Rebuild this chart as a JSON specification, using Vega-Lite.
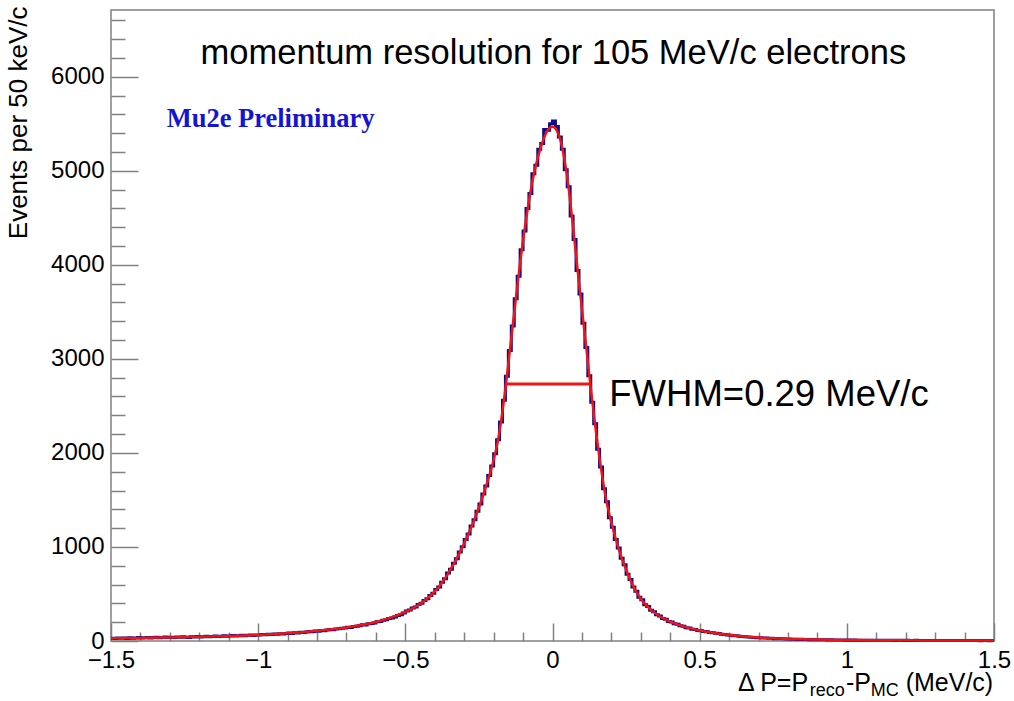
{
  "$schema": "https://vega.github.io/schema/vega-lite/v6.json",
  "width": 883,
  "height": 631,
  "autosize": "none",
  "padding": {"left": 111, "top": 10, "right": 20, "bottom": 60},
  "background": "white",
  "config": {"view": {"stroke": "#808080", "strokeWidth": 1.5}, "font": "Liberation Sans"},
  "datasets": {
    "hist": [
      {"x":-1.50,"n":30},{"x":-1.49,"n":26},{"x":-1.48,"n":33},{"x":-1.47,"n":29},{"x":-1.46,"n":31},{"x":-1.45,"n":27},{"x":-1.44,"n":35},{"x":-1.43,"n":30},{"x":-1.42,"n":33},{"x":-1.41,"n":36},
      {"x":-1.40,"n":31},{"x":-1.39,"n":34},{"x":-1.38,"n":38},{"x":-1.37,"n":33},{"x":-1.36,"n":36},{"x":-1.35,"n":40},{"x":-1.34,"n":35},{"x":-1.33,"n":38},{"x":-1.32,"n":42},{"x":-1.31,"n":37},
      {"x":-1.30,"n":40},{"x":-1.29,"n":36},{"x":-1.28,"n":43},{"x":-1.27,"n":39},{"x":-1.26,"n":44},{"x":-1.25,"n":41},{"x":-1.24,"n":38},{"x":-1.23,"n":45},{"x":-1.22,"n":42},{"x":-1.21,"n":47},
      {"x":-1.20,"n":43},{"x":-1.19,"n":46},{"x":-1.18,"n":50},{"x":-1.17,"n":44},{"x":-1.16,"n":48},{"x":-1.15,"n":52},{"x":-1.14,"n":47},{"x":-1.13,"n":51},{"x":-1.12,"n":55},{"x":-1.11,"n":50},
      {"x":-1.10,"n":54},{"x":-1.09,"n":58},{"x":-1.08,"n":52},{"x":-1.07,"n":57},{"x":-1.06,"n":61},{"x":-1.05,"n":56},{"x":-1.04,"n":60},{"x":-1.03,"n":64},{"x":-1.02,"n":58},{"x":-1.01,"n":63},
      {"x":-1.00,"n":63},{"x":-0.99,"n":70},{"x":-0.98,"n":66},{"x":-0.97,"n":72},{"x":-0.96,"n":69},{"x":-0.95,"n":75},{"x":-0.94,"n":71},{"x":-0.93,"n":78},{"x":-0.92,"n":74},{"x":-0.91,"n":80},
      {"x":-0.90,"n":84},{"x":-0.89,"n":81},{"x":-0.88,"n":89},{"x":-0.87,"n":86},{"x":-0.86,"n":93},{"x":-0.85,"n":90},{"x":-0.84,"n":97},{"x":-0.83,"n":101},{"x":-0.82,"n":98},{"x":-0.81,"n":106},
      {"x":-0.80,"n":104},{"x":-0.79,"n":112},{"x":-0.78,"n":109},{"x":-0.77,"n":118},{"x":-0.76,"n":121},{"x":-0.75,"n":119},{"x":-0.74,"n":128},{"x":-0.73,"n":131},{"x":-0.72,"n":135},{"x":-0.71,"n":138},
      {"x":-0.70,"n":146},{"x":-0.69,"n":143},{"x":-0.68,"n":155},{"x":-0.67,"n":158},{"x":-0.66,"n":161},{"x":-0.65,"n":172},{"x":-0.64,"n":170},{"x":-0.63,"n":183},{"x":-0.62,"n":186},{"x":-0.61,"n":192},
      {"x":-0.60,"n":205},{"x":-0.59,"n":208},{"x":-0.58,"n":221},{"x":-0.57,"n":226},{"x":-0.56,"n":240},{"x":-0.55,"n":245},{"x":-0.54,"n":256},{"x":-0.53,"n":272},{"x":-0.52,"n":279},{"x":-0.51,"n":298},
      {"x":-0.50,"n":318},{"x":-0.49,"n":330},{"x":-0.48,"n":352},{"x":-0.47,"n":362},{"x":-0.46,"n":389},{"x":-0.45,"n":402},{"x":-0.44,"n":431},{"x":-0.43,"n":449},{"x":-0.42,"n":484},{"x":-0.41,"n":507},
      {"x":-0.40,"n":548},{"x":-0.39,"n":575},{"x":-0.38,"n":626},{"x":-0.37,"n":661},{"x":-0.36,"n":722},{"x":-0.35,"n":764},{"x":-0.34,"n":827},{"x":-0.33,"n":874},{"x":-0.32,"n":946},{"x":-0.31,"n":1002},
      {"x":-0.30,"n":1079},{"x":-0.29,"n":1139},{"x":-0.28,"n":1222},{"x":-0.27,"n":1289},{"x":-0.26,"n":1381},{"x":-0.25,"n":1458},{"x":-0.24,"n":1562},{"x":-0.23,"n":1648},{"x":-0.22,"n":1761},{"x":-0.21,"n":1862},
      {"x":-0.20,"n":1990},{"x":-0.19,"n":2140},{"x":-0.18,"n":2330},{"x":-0.17,"n":2561},{"x":-0.16,"n":2815},{"x":-0.15,"n":3090},{"x":-0.14,"n":3350},{"x":-0.13,"n":3640},{"x":-0.12,"n":3880},{"x":-0.11,"n":4160},
      {"x":-0.10,"n":4360},{"x":-0.09,"n":4600},{"x":-0.08,"n":4760},{"x":-0.07,"n":4970},{"x":-0.06,"n":5060},{"x":-0.05,"n":5230},{"x":-0.04,"n":5290},{"x":-0.03,"n":5440},{"x":-0.02,"n":5430},{"x":-0.01,"n":5500},
      {"x":0.00,"n":5530},{"x":0.01,"n":5470},{"x":0.02,"n":5360},{"x":0.03,"n":5230},{"x":0.04,"n":5010},{"x":0.05,"n":4830},{"x":0.06,"n":4520},{"x":0.07,"n":4270},{"x":0.08,"n":3940},{"x":0.09,"n":3690},
      {"x":0.10,"n":3380},{"x":0.11,"n":3120},{"x":0.12,"n":2820},{"x":0.13,"n":2540},{"x":0.14,"n":2310},{"x":0.15,"n":2040},{"x":0.16,"n":1850},{"x":0.17,"n":1620},{"x":0.18,"n":1480},{"x":0.19,"n":1310},
      {"x":0.20,"n":1210},{"x":0.21,"n":1080},{"x":0.22,"n":990},{"x":0.23,"n":880},{"x":0.24,"n":810},{"x":0.25,"n":710},{"x":0.26,"n":655},{"x":0.27,"n":575},{"x":0.28,"n":530},{"x":0.29,"n":465},
      {"x":0.30,"n":438},{"x":0.31,"n":385},{"x":0.32,"n":366},{"x":0.33,"n":326},{"x":0.34,"n":310},{"x":0.35,"n":280},{"x":0.36,"n":266},{"x":0.37,"n":240},{"x":0.38,"n":231},{"x":0.39,"n":208},
      {"x":0.40,"n":202},{"x":0.41,"n":184},{"x":0.42,"n":178},{"x":0.43,"n":162},{"x":0.44,"n":157},{"x":0.45,"n":142},{"x":0.46,"n":139},{"x":0.47,"n":126},{"x":0.48,"n":123},{"x":0.49,"n":112},
      {"x":0.50,"n":108},{"x":0.51,"n":101},{"x":0.52,"n":98},{"x":0.53,"n":91},{"x":0.54,"n":88},{"x":0.55,"n":82},{"x":0.56,"n":79},{"x":0.57,"n":72},{"x":0.58,"n":70},{"x":0.59,"n":64},
      {"x":0.60,"n":61},{"x":0.61,"n":57},{"x":0.62,"n":55},{"x":0.63,"n":50},{"x":0.64,"n":48},{"x":0.65,"n":44},{"x":0.66,"n":43},{"x":0.67,"n":39},{"x":0.68,"n":38},{"x":0.69,"n":35},
      {"x":0.70,"n":34},{"x":0.71,"n":31},{"x":0.72,"n":31},{"x":0.73,"n":28},{"x":0.74,"n":28},{"x":0.75,"n":25},{"x":0.76,"n":26},{"x":0.77,"n":23},{"x":0.78,"n":23},{"x":0.79,"n":21},
      {"x":0.80,"n":21},{"x":0.81,"n":19},{"x":0.82,"n":19},{"x":0.83,"n":17},{"x":0.84,"n":18},{"x":0.85,"n":16},{"x":0.86,"n":16},{"x":0.87,"n":14},{"x":0.88,"n":15},{"x":0.89,"n":13},
      {"x":0.90,"n":14},{"x":0.91,"n":12},{"x":0.92,"n":13},{"x":0.93,"n":11},{"x":0.94,"n":12},{"x":0.95,"n":11},{"x":0.96,"n":11},{"x":0.97,"n":10},{"x":0.98,"n":11},{"x":0.99,"n":9},
      {"x":1.00,"n":10},{"x":1.01,"n":9},{"x":1.02,"n":10},{"x":1.03,"n":8},{"x":1.04,"n":9},{"x":1.05,"n":9},{"x":1.06,"n":8},{"x":1.07,"n":9},{"x":1.08,"n":7},{"x":1.09,"n":8},
      {"x":1.10,"n":8},{"x":1.11,"n":7},{"x":1.12,"n":8},{"x":1.13,"n":7},{"x":1.14,"n":7},{"x":1.15,"n":8},{"x":1.16,"n":6},{"x":1.17,"n":7},{"x":1.18,"n":7},{"x":1.19,"n":6},
      {"x":1.20,"n":7},{"x":1.21,"n":6},{"x":1.22,"n":6},{"x":1.23,"n":7},{"x":1.24,"n":5},{"x":1.25,"n":6},{"x":1.26,"n":6},{"x":1.27,"n":5},{"x":1.28,"n":6},{"x":1.29,"n":5},
      {"x":1.30,"n":5},{"x":1.31,"n":6},{"x":1.32,"n":5},{"x":1.33,"n":5},{"x":1.34,"n":4},{"x":1.35,"n":5},{"x":1.36,"n":5},{"x":1.37,"n":4},{"x":1.38,"n":5},{"x":1.39,"n":4},
      {"x":1.40,"n":4},{"x":1.41,"n":5},{"x":1.42,"n":4},{"x":1.43,"n":4},{"x":1.44,"n":4},{"x":1.45,"n":3},{"x":1.46,"n":4},{"x":1.47,"n":4},{"x":1.48,"n":3},{"x":1.49,"n":4},
      {"x":1.50,"n":4}
    ],
    "fit": [
      {"x":-1.5,"f":29},{"x":-1.4,"f":33},{"x":-1.3,"f":38},{"x":-1.2,"f":44},{"x":-1.1,"f":52},{"x":-1.0,"f":64},{"x":-0.95,"f":73},{"x":-0.9,"f":83},{"x":-0.85,"f":94},{"x":-0.8,"f":108},
      {"x":-0.75,"f":124},{"x":-0.7,"f":144},{"x":-0.65,"f":170},{"x":-0.6,"f":202},{"x":-0.55,"f":248},{"x":-0.5,"f":309},{"x":-0.48,"f":340},{"x":-0.46,"f":375},{"x":-0.44,"f":416},{"x":-0.42,"f":466},
      {"x":-0.40,"f":527},{"x":-0.38,"f":602},{"x":-0.36,"f":690},{"x":-0.35,"f":745},{"x":-0.34,"f":795},{"x":-0.33,"f":850},{"x":-0.32,"f":910},{"x":-0.31,"f":975},{"x":-0.30,"f":1040},{"x":-0.29,"f":1110},
      {"x":-0.28,"f":1180},{"x":-0.27,"f":1255},{"x":-0.26,"f":1335},{"x":-0.25,"f":1420},{"x":-0.24,"f":1510},{"x":-0.23,"f":1605},{"x":-0.22,"f":1705},{"x":-0.21,"f":1810},{"x":-0.20,"f":1925},{"x":-0.19,"f":2060},
      {"x":-0.18,"f":2230},{"x":-0.17,"f":2440},{"x":-0.16,"f":2680},{"x":-0.15,"f":2950},{"x":-0.14,"f":3220},{"x":-0.13,"f":3490},{"x":-0.12,"f":3760},{"x":-0.11,"f":4020},{"x":-0.10,"f":4260},{"x":-0.09,"f":4480},
      {"x":-0.08,"f":4680},{"x":-0.07,"f":4860},{"x":-0.06,"f":5010},{"x":-0.05,"f":5140},{"x":-0.04,"f":5250},{"x":-0.03,"f":5340},{"x":-0.02,"f":5410},{"x":-0.01,"f":5455},{"x":0.00,"f":5468},{"x":0.01,"f":5450},
      {"x":0.02,"f":5390},{"x":0.03,"f":5290},{"x":0.04,"f":5130},{"x":0.05,"f":4930},{"x":0.06,"f":4680},{"x":0.07,"f":4400},{"x":0.08,"f":4100},{"x":0.09,"f":3810},{"x":0.10,"f":3530},{"x":0.11,"f":3250},
      {"x":0.12,"f":2970},{"x":0.13,"f":2690},{"x":0.14,"f":2420},{"x":0.15,"f":2170},{"x":0.16,"f":1940},{"x":0.17,"f":1730},{"x":0.18,"f":1540},{"x":0.19,"f":1390},{"x":0.20,"f":1260},{"x":0.21,"f":1140},
      {"x":0.22,"f":1030},{"x":0.23,"f":930},{"x":0.24,"f":840},{"x":0.25,"f":760},{"x":0.26,"f":680},{"x":0.27,"f":610},{"x":0.28,"f":550},{"x":0.29,"f":495},{"x":0.30,"f":450},{"x":0.32,"f":375},
      {"x":0.34,"f":318},{"x":0.36,"f":272},{"x":0.38,"f":236},{"x":0.40,"f":206},{"x":0.45,"f":150},{"x":0.5,"f":111},{"x":0.55,"f":84},{"x":0.6,"f":63},{"x":0.65,"f":47},{"x":0.7,"f":36},
      {"x":0.75,"f":28},{"x":0.8,"f":22},{"x":0.85,"f":18},{"x":0.9,"f":15},{"x":1.0,"f":11},{"x":1.1,"f":8},{"x":1.2,"f":7},{"x":1.3,"f":6},{"x":1.4,"f":5},{"x":1.5,"f":4}
    ],
    "fwhm": [{"x1": -0.158, "x2": 0.128, "y": 2734}],
    "one": [{}]
  },
  "resolve": {"axis": {"x": "independent", "y": "independent"}},
  "layer": [
    {
      "data": {"name": "hist"},
      "mark": {"type": "line", "interpolate": "step-after", "color": "#0c0c8c", "strokeWidth": 3},
      "encoding": {
        "x": {"field": "x", "type": "quantitative", "scale": {"domain": [-1.5, 1.5], "nice": false, "zero": false},
          "axis": {"orient": "bottom", "values": [-1.5, -1, -0.5, 0, 0.5, 1, 1.5], "format": "~g", "ticks": false, "domain": false, "grid": false,
            "labelFont": "Liberation Sans", "labelFontSize": 24, "labelColor": "#000000", "labelPadding": 7, "labelFlush": false, "labelOverlap": false, "title": null}},
        "y": {"field": "n", "type": "quantitative", "scale": {"domain": [0, 6710], "nice": false, "zero": false},
          "axis": {"orient": "left", "values": [0, 1000, 2000, 3000, 4000, 5000, 6000], "format": "d", "ticks": false, "domain": false, "grid": false,
            "labelFont": "Liberation Sans", "labelFontSize": 24, "labelColor": "#000000", "labelPadding": 7, "labelOverlap": false,
            "title": "Events per 50 keV/c", "titleFont": "Liberation Sans", "titleFontSize": 26, "titleFontWeight": "normal", "titleColor": "#000000",
            "titleAngle": 270, "titleAlign": "right", "titleBaseline": "middle", "titleX": -93, "titleY": -4}}
      }
    },
    {
      "data": {"name": "fit"},
      "mark": {"type": "line", "interpolate": "monotone", "color": "#f01414", "strokeWidth": 2.5},
      "encoding": {
        "x": {"field": "x", "type": "quantitative",
          "axis": {"orient": "bottom", "values": [-1.5, -1, -0.5, 0, 0.5, 1, 1.5], "labels": false, "domain": false, "grid": false, "tickSize": -18, "tickColor": "#808080", "tickWidth": 1.5, "title": null}},
        "y": {"field": "f", "type": "quantitative",
          "axis": {"orient": "left", "values": [0, 1000, 2000, 3000, 4000, 5000, 6000], "labels": false, "domain": false, "grid": false, "tickSize": -27, "tickColor": "#808080", "tickWidth": 1.5, "title": null}}
      }
    },
    {
      "data": {"name": "fwhm"},
      "mark": {"type": "rule", "color": "#f01414", "strokeWidth": 3},
      "encoding": {
        "x": {"field": "x1", "type": "quantitative",
          "axis": {"orient": "bottom", "values": [-1.4, -1.3, -1.2, -1.1, -0.9, -0.8, -0.7, -0.6, -0.4, -0.3, -0.2, -0.1, 0.1, 0.2, 0.3, 0.4, 0.6, 0.7, 0.8, 0.9, 1.1, 1.2, 1.3, 1.4],
            "labels": false, "domain": false, "grid": false, "tickSize": -9, "tickColor": "#808080", "tickWidth": 1.5, "title": null}},
        "x2": {"field": "x2"},
        "y": {"field": "y", "type": "quantitative",
          "axis": {"orient": "left", "values": [200, 400, 600, 800, 1200, 1400, 1600, 1800, 2200, 2400, 2600, 2800, 3200, 3400, 3600, 3800, 4200, 4400, 4600, 4800, 5200, 5400, 5600, 5800, 6200, 6400, 6600],
            "labels": false, "domain": false, "grid": false, "tickSize": -14, "tickColor": "#808080", "tickWidth": 1.5, "title": null}}
      }
    },
    {
      "data": {"name": "one"},
      "mark": {"type": "text", "text": "momentum resolution for 105 MeV/c electrons", "font": "Liberation Sans", "fontSize": 34.5, "align": "center", "baseline": "alphabetic", "color": "#000000"},
      "encoding": {"x": {"datum": 0.003, "type": "quantitative", "axis": null}, "y": {"datum": 6136, "type": "quantitative", "axis": null}}
    },
    {
      "data": {"name": "one"},
      "mark": {"type": "text", "text": "Mu2e Preliminary", "font": "Liberation Serif", "fontWeight": "bold", "fontSize": 26.5, "align": "left", "baseline": "alphabetic", "color": "#1414d2"},
      "encoding": {"x": {"datum": -1.311, "type": "quantitative", "axis": null}, "y": {"datum": 5466, "type": "quantitative", "axis": null}}
    },
    {
      "data": {"name": "one"},
      "mark": {"type": "text", "text": "FWHM=0.29 MeV/c", "font": "Liberation Sans", "fontSize": 36.5, "align": "left", "baseline": "alphabetic", "color": "#000000"},
      "encoding": {"x": {"datum": 0.193, "type": "quantitative", "axis": null}, "y": {"datum": 2499, "type": "quantitative", "axis": null}}
    },
    {
      "data": {"name": "one"},
      "mark": {"type": "text", "text": "Δ P=P", "font": "Liberation Sans", "fontSize": 25, "align": "left", "baseline": "alphabetic", "color": "#000000"},
      "encoding": {"x": {"datum": 0.630, "type": "quantitative", "axis": null}, "y": {"datum": -532, "type": "quantitative", "axis": null}}
    },
    {
      "data": {"name": "one"},
      "mark": {"type": "text", "text": "reco", "font": "Liberation Sans", "fontSize": 18, "align": "left", "baseline": "alphabetic", "color": "#000000"},
      "encoding": {"x": {"datum": 0.874, "type": "quantitative", "axis": null}, "y": {"datum": -590, "type": "quantitative", "axis": null}}
    },
    {
      "data": {"name": "one"},
      "mark": {"type": "text", "text": "-P", "font": "Liberation Sans", "fontSize": 25, "align": "left", "baseline": "alphabetic", "color": "#000000"},
      "encoding": {"x": {"datum": 0.997, "type": "quantitative", "axis": null}, "y": {"datum": -532, "type": "quantitative", "axis": null}}
    },
    {
      "data": {"name": "one"},
      "mark": {"type": "text", "text": "MC", "font": "Liberation Sans", "fontSize": 18, "align": "left", "baseline": "alphabetic", "color": "#000000"},
      "encoding": {"x": {"datum": 1.081, "type": "quantitative", "axis": null}, "y": {"datum": -590, "type": "quantitative", "axis": null}}
    },
    {
      "data": {"name": "one"},
      "mark": {"type": "text", "text": "(MeV/c)", "font": "Liberation Sans", "fontSize": 25, "align": "left", "baseline": "alphabetic", "color": "#000000"},
      "encoding": {"x": {"datum": 1.200, "type": "quantitative", "axis": null}, "y": {"datum": -532, "type": "quantitative", "axis": null}}
    }
  ]
}
